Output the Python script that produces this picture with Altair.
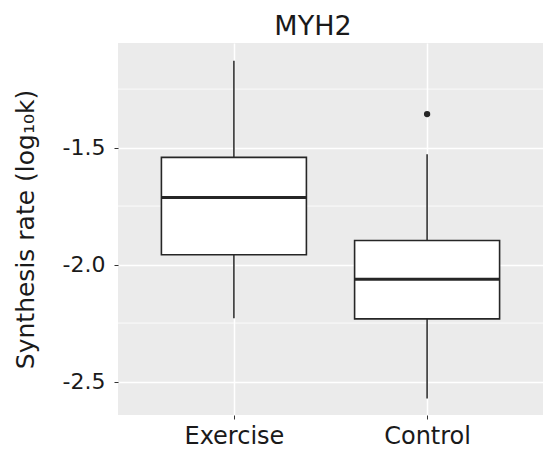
import altair as alt
import pandas as pd

groups = ["Exercise", "Control"]
whisker_low = [-2.230, -2.572]
q1 = [-1.958, -2.232]
median = [-1.713, -2.063]
q3 = [-1.542, -1.897]
whisker_high = [-1.129, -1.528]
outlier_group = ["Control"]
outlier_value = [-1.357]
major_breaks = [-1.5, -2.0, -2.5]
minor_breaks = [-1.25, -1.75, -2.25]
y_domain = [-2.643, -1.053]
title_text = ["MYH2"]

box = pd.DataFrame({"group": groups, "lo": whisker_low, "q1": q1, "med": median,
                    "q3": q3, "hi": whisker_high})
out = pd.DataFrame({"group": outlier_group, "value": outlier_value})
minor = pd.DataFrame({"v": minor_breaks})
ttl = pd.DataFrame({"t": title_text})

FONT = "DejaVu Sans"
W, H = 425, 372
INK = "#1a1a1a"
LINE = "#262626"

xscale = alt.Scale(type="point", padding=0.6, domain=groups)
xs = alt.X("group:N", sort=groups, scale=xscale,
           axis=alt.Axis(title=None, labelFont=FONT, labelFontSize=24, labelColor=INK,
                         labelAngle=0, tickColor="#333333", tickSize=4, tickWidth=1,
                         labelPadding=5, domain=False, grid=True, gridColor="white",
                         gridWidth=1.5))
yscale = alt.Scale(domain=y_domain, nice=False, zero=False)

minor_rules = alt.Chart(minor).mark_rule(color="white", strokeWidth=0.8).encode(
    y=alt.Y("v:Q", scale=yscale)
)

whiskers = alt.Chart(box).mark_rule(color=LINE, strokeWidth=1.5, opacity=1).encode(
    x=xs,
    y=alt.Y("lo:Q", scale=yscale,
            axis=alt.Axis(values=major_breaks, title="Synthesis rate (log₁₀k)",
                          labelExpr="replace(format(datum.value, '.1f'), '\u2212', '-')",
                          titleFont=FONT, titleFontSize=25, titleFontWeight="normal",
                          titleColor=INK, titleAngle=270, titleBaseline="alphabetic",
                          titleAlign="center", titleX=-85, titleY=H / 2,
                          labelFont=FONT, labelFontSize=22, labelColor=INK,
                          tickColor="#333333", tickSize=4, tickWidth=1, labelPadding=9,
                          domain=False, grid=True, gridColor="white", gridWidth=1.5)),
    y2="hi:Q",
)

boxes = alt.Chart(box).mark_bar(size=145, fill="white", stroke=LINE, strokeWidth=1.6,
                                opacity=1).encode(
    x=xs, y=alt.Y("q1:Q", scale=yscale), y2="q3:Q"
)

medians = alt.Chart(box).mark_tick(size=145, thickness=3, color=LINE, opacity=1,
                                   orient="horizontal").encode(
    x=xs, y=alt.Y("med:Q", scale=yscale)
)

points = alt.Chart(out).mark_circle(size=40, color=LINE, opacity=1).encode(
    x=alt.X("group:N", sort=groups, scale=xscale),
    y=alt.Y("value:Q", scale=yscale),
)

title = alt.Chart(ttl).mark_text(font=FONT, fontSize=27, color=INK, align="center",
                                  baseline="alphabetic").encode(
    text="t:N", x=alt.value(313 - 118), y=alt.value(35 - 43)
)

chart = alt.layer(minor_rules, whiskers, boxes, medians, points, title).properties(
    width=W, height=H,
    autosize=alt.AutoSizeParams(type="none"),
    padding={"left": 118, "top": 43, "right": 5, "bottom": 36},
    background="white",
).configure_view(fill="#EBEBEB", stroke=None)

chart.save("out.html", embed_options={"renderer": "svg", "actions": False})
